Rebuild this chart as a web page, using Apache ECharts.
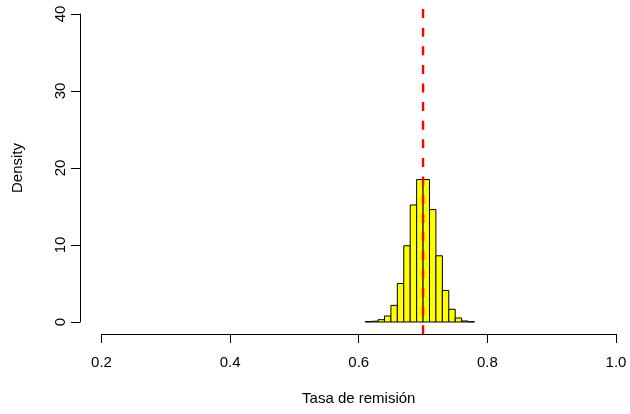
<!DOCTYPE html>
<html>
<head>
<meta charset="utf-8">
<script src="https://cdn.jsdelivr.net/npm/echarts@6/dist/echarts.min.js"></script>
<style>
  html, body { margin: 0; padding: 0; background: #ffffff; }
  #chart { width: 630px; height: 414px; }
</style>
</head>
<body>
<div id="chart"></div>
<script>
// Histogram bin edges and densities
const breaks = [0.61, 0.62, 0.63, 0.64, 0.65, 0.66, 0.67, 0.68, 0.69, 0.70,
                0.71, 0.72, 0.73, 0.74, 0.75, 0.76, 0.77, 0.78];
const density = [0.05, 0.1, 0.3, 0.78, 2.16, 5.0, 9.9, 15.2, 18.5, 18.5,
                 14.6, 8.6, 4.1, 1.65, 0.52, 0.13, 0.04];

// Axis ticks and reference value
const xTicks = [0.2, 0.4, 0.6, 0.8, 1.0];
const yTicks = [0, 10, 20, 30, 40];
const refValue = 0.7;

const xTitle = 'Tasa de remisión';
const yTitle = 'Density';

const bins = density.map((d, i) => [breaks[i], breaks[i + 1], d]);

// vertical reference line spans the whole plotting region (axis range padded by 4%)
const yMin = yTicks[0], yMax = yTicks[yTicks.length - 1];
const yPad = 0.04 * (yMax - yMin);

const font = '"Liberation Sans", Arial, Helvetica, sans-serif';
const chart = echarts.init(document.getElementById('chart'), null, { renderer: 'canvas' });

chart.setOption({
  animation: false,
  grid: { left: 101.5, right: 14, top: 14, bottom: 92, containLabel: false },
  xAxis: {
    type: 'value',
    min: xTicks[0], max: xTicks[xTicks.length - 1], interval: 0.2,
    offset: 12,
    name: xTitle, nameLocation: 'middle', nameGap: 57,
    nameTextStyle: { color: '#000', fontFamily: font, fontSize: 15 },
    axisLine: { show: true, onZero: false, lineStyle: { color: '#000', width: 1 } },
    axisTick: { show: true, length: 9, lineStyle: { color: '#000', width: 1 } },
    axisLabel: { color: '#000', fontFamily: font, fontSize: 15, margin: 21,
                 formatter: v => v.toFixed(1) },
    splitLine: { show: false }
  },
  yAxis: {
    type: 'value',
    min: yMin, max: yMax, interval: 10,
    offset: 21.5,
    name: yTitle, nameLocation: 'middle', nameGap: 55, nameRotate: 90,
    nameTextStyle: { color: '#000', fontFamily: font, fontSize: 15 },
    axisLine: { show: true, onZero: false, lineStyle: { color: '#000', width: 1 } },
    axisTick: { show: true, length: 9, lineStyle: { color: '#000', width: 1 } },
    axisLabel: { color: '#000', fontFamily: font, fontSize: 15, margin: 12, rotate: 90 },
    splitLine: { show: false }
  },
  series: [
    {
      type: 'custom',
      clip: false,
      silent: true,
      data: bins,
      encode: { x: [0, 1], y: 2 },
      renderItem: (params, api) => {
        const p0 = api.coord([api.value(0), 0]);
        const p1 = api.coord([api.value(1), api.value(2)]);
        return {
          type: 'rect',
          shape: { x: p0[0], y: p1[1], width: p1[0] - p0[0], height: p0[1] - p1[1] },
          style: { fill: '#ffff00', stroke: '#000000', lineWidth: 1 }
        };
      }
    },
    {
      // drawn bottom-up so the dash pattern starts at the lower edge
      type: 'line',
      clip: false,
      silent: true,
      symbol: 'none',
      data: [[refValue, yMin - yPad], [refValue, yMax + yPad]],
      lineStyle: { color: '#ff0000', width: 2.4, type: [9, 9.6] }
    }
  ]
});
</script>
</body>
</html>
